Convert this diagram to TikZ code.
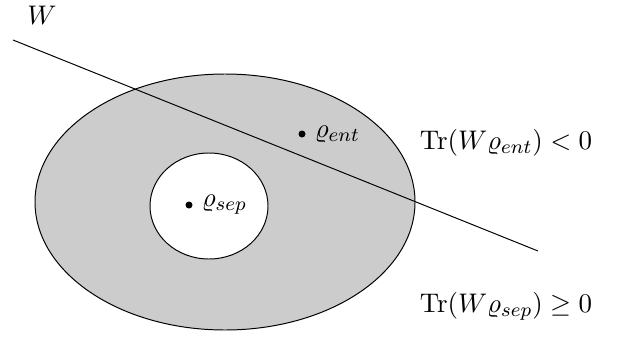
\documentclass[tikz,border=0pt]{standalone}
\usepackage{amsmath}
\usepackage{amssymb}
\usetikzlibrary{positioning}

\begin{document}
\begin{tikzpicture}[x=0.01429cm, y=-0.01429cm, every node/.style={inner sep=2pt, font=\fontsize{10.95}{13}\selectfont}]
    \useasboundingbox (0,0) rectangle (622,343);

    % regions
    \filldraw[fill=gray!40, draw=black, thin] (225,202) ellipse (190 and 128);
    \filldraw[fill=white, draw=black, thin] (209,206) ellipse (59 and 53);

    % states
    \fill (302,134) circle (3.5);
    \node[right=3pt of {(302,134)}] (ent) {$\varrho_{ent}$};
    \fill (189,205) circle (3.5);
    \node[right=3pt of {(189,205)}] (sep) {$\varrho_{sep}$};

    % witness
    \node (w) at (42,15) {$W$};
    \coordinate (wa) at (13,40);
    \coordinate (wb) at (538,251);
    \draw (wa) -- (wb);

    % labels
    \node (trent) at (506,143) {$\mathrm{Tr}(W\varrho_{ent})<0$};
    \node (trsep) at (506,306) {$\mathrm{Tr}(W\varrho_{sep})\geq 0$};
\end{tikzpicture}
\end{document}
